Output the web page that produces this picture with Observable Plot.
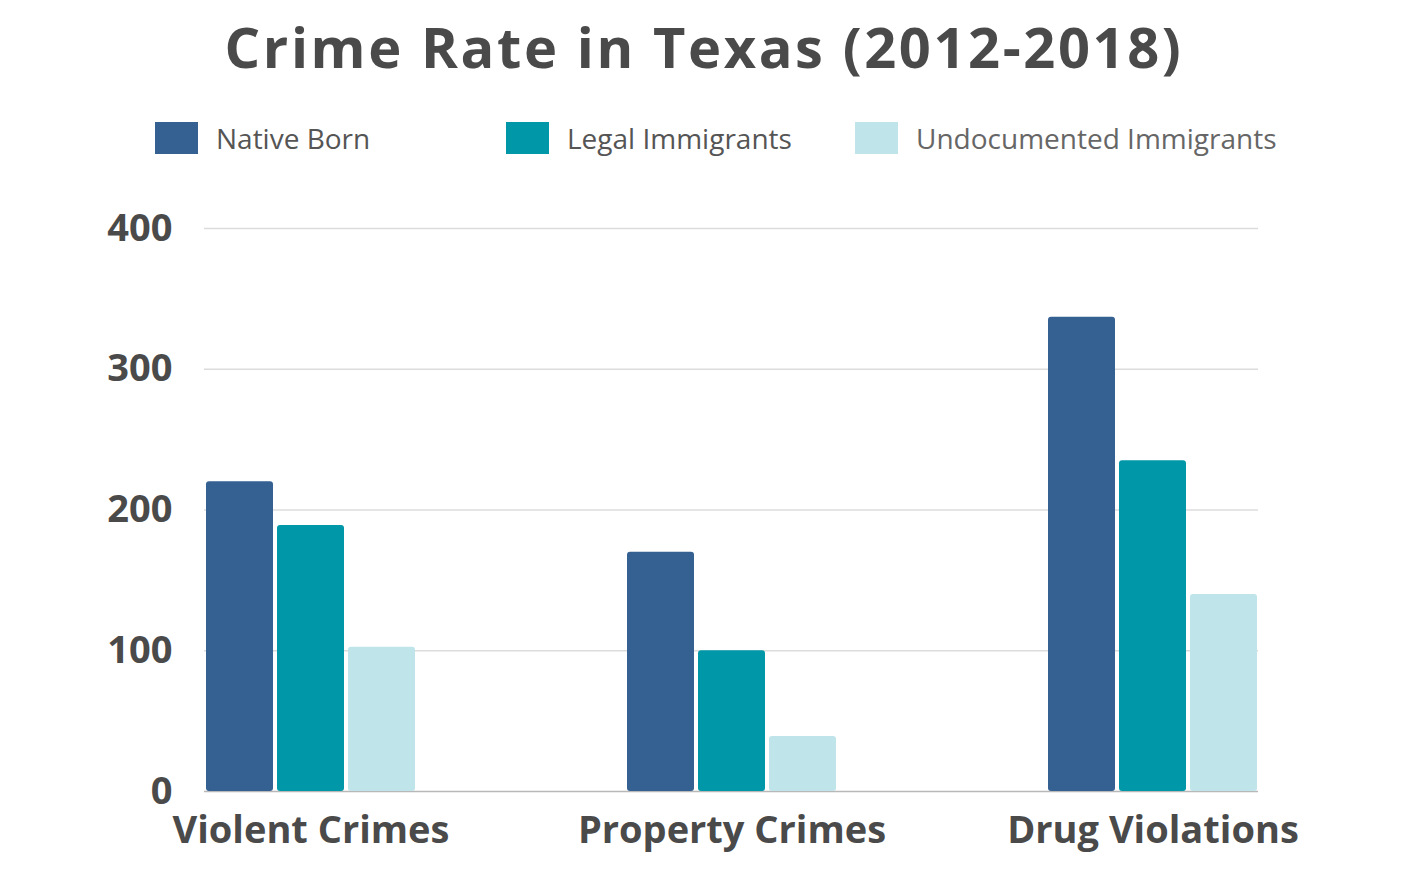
<!DOCTYPE html>
<html>
<head>
<meta charset="utf-8">
<script src="https://cdn.jsdelivr.net/npm/d3@7"></script>
<script src="https://cdn.jsdelivr.net/npm/@observablehq/plot@0.6"></script>
<style>
  html, body { margin: 0; padding: 0; background: #fff; }
  #wrap { position: relative; width: 1408px; height: 881px; overflow: hidden; font-family: "Open Sans", sans-serif; }
  #title { position: absolute; left: 0; width: 1408px; top: 10px; text-align: center; font-family: "Open Sans", sans-serif; font-weight: 700; font-size: 56px; letter-spacing: 2.6px; color: #4a4a4a; line-height: 72px; }
  .key { position: absolute; top: 122px; height: 32px; display: flex; align-items: center; }
  .key .sw { width: 43px; height: 32px; margin-right: 18px; }
  .key .lb { font-size: 28px; color: #585858; line-height: 32px; }
  .layer { position: absolute; left: 0; top: 180px; }
</style>
</head>
<body>
<div id="wrap">
  <div id="title"></div>
  <div id="legend"></div>
  <div id="grid" class="layer"></div>
  <div id="bars" class="layer"></div>
</div>
<script>
// Crime rate per group and offence type
const categories = ["Violent Crimes", "Property Crimes", "Drug Violations"];
const series = ["Native Born", "Legal Immigrants", "Undocumented Immigrants"];
const nativeBorn = [220, 170, 337];
const legalImmigrants = [189, 100, 235];
const undocumentedImmigrants = [102.5, 39, 140];
const colors = ["#356092", "#0098a8", "#bfe4ea"];
const yTicks = [0, 100, 200, 300, 400];

const values = [nativeBorn, legalImmigrants, undocumentedImmigrants];
const rows = [];
categories.forEach((c, i) => {
  series.forEach((s, j) => rows.push({category: c, series: s, value: values[j][i]}));
});

document.getElementById("title").textContent = "Crime Rate in Texas (2012-2018)";

// Legend
const legend = document.getElementById("legend");
const keyLeft = [155, 506, 855];
const labelColors = ["#555", "#555", "#666"];
series.forEach((s, j) => {
  const k = document.createElement("div");
  k.className = "key";
  k.style.left = keyLeft[j] + "px";
  k.innerHTML = `<div class="sw" style="background:${colors[j]}"></div><div class="lb" style="color:${labelColors[j]}">${s}</div>`;
  legend.appendChild(k);
});

// Shared frame for both layers
const frame = {
  width: 1408,
  height: 691,
  marginLeft: 204,
  marginRight: 150,
  marginTop: 48,
  marginBottom: 80,
  style: {fontFamily: "Open Sans, sans-serif", fontWeight: 700, fontSize: "38px", color: "#4a4a4a", background: "transparent"}
};
const yDomain = [0, 400];

// Background layer: value axis and full-width gridlines
const grid = Plot.plot({
  ...frame,
  x: {axis: null},
  y: {domain: yDomain, ticks: yTicks, tickSize: 0, tickPadding: 32, label: null},
  marks: [
    Plot.ruleY(yTicks.slice(1), {stroke: "#dcdcdc", strokeWidth: 1.5}),
    Plot.ruleY([0], {stroke: "#b8b8b8", strokeWidth: 1.5})
  ]
});
document.getElementById("grid").appendChild(grid);

// Foreground layer: grouped bars, one facet per offence type
const bars = Plot.plot({
  ...frame,
  fx: {domain: categories, paddingInner: 0.5, paddingOuter: 0, label: null, tickSize: 0, tickPadding: 25},
  x: {domain: series, paddingInner: 0.056, paddingOuter: 0, axis: null},
  y: {domain: yDomain, axis: null},
  color: {domain: series, range: colors},
  marks: [
    Plot.barY(rows, {fx: "category", x: "series", y: "value", fill: "series", rx: 3})
  ]
});
document.getElementById("bars").appendChild(bars);
</script>
</body>
</html>
